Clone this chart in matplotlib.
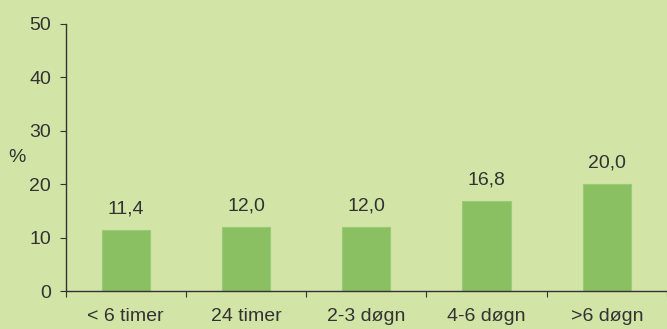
import matplotlib.pyplot as plt

# data
categories = ['< 6 timer', '24 timer', '2-3 døgn', '4-6 døgn', '>6 døgn']
values = [11.4, 12.0, 12.0, 16.8, 20.0]
value_labels = ['11,4', '12,0', '12,0', '16,8', '20,0']

BG = '#d2e4a6'
BAR = '#8abf62'
TXT = '#333333'

plt.rcParams['font.family'] = ['Liberation Sans', 'DejaVu Sans']

fig = plt.figure(figsize=(6.67, 3.29), dpi=100, facecolor=BG)
ax = fig.add_axes([65.5 / 667, 38 / 329, 1 - 65.5 / 667, 267 / 329], facecolor=BG)

x = list(range(len(categories)))
ax.bar(x, values, width=0.4, color=BAR, edgecolor='#9ccb75', linewidth=0.8, zorder=2)

for xi, v, lab in zip(x, values, value_labels):
    ax.annotate(lab, (xi, v), xytext=(0, 9), textcoords='offset points',
                ha='center', va='bottom', fontsize=14, color=TXT)

ax.set_ylim(0, 50)
ax.set_xlim(-0.5, 4.44)
ax.set_yticks(range(0, 51, 10))
ax.tick_params(axis='y', labelsize=14, labelcolor=TXT, color=TXT, length=4.3, pad=6)

# boundary ticks on x, labels at category centres
ax.set_xticks([i - 0.5 for i in range(len(categories) + 1)])
ax.set_xticklabels([])
ax.tick_params(axis='x', which='major', color=TXT, length=4, direction='out')
ax.set_xticks(x, minor=True)
ax.set_xticklabels(categories, minor=True)
ax.tick_params(axis='x', which='minor', length=0, pad=12, labelsize=14, labelcolor=TXT)

for s in ['top', 'right']:
    ax.spines[s].set_visible(False)
for s in ['left', 'bottom']:
    ax.spines[s].set_color(TXT)
    ax.spines[s].set_linewidth(1.0)

fig.text(17 / 667, 1 - 158 / 329, '%', fontsize=14, color=TXT, ha='center', va='center')

plt.savefig('out.png', dpi=100, facecolor=BG)
